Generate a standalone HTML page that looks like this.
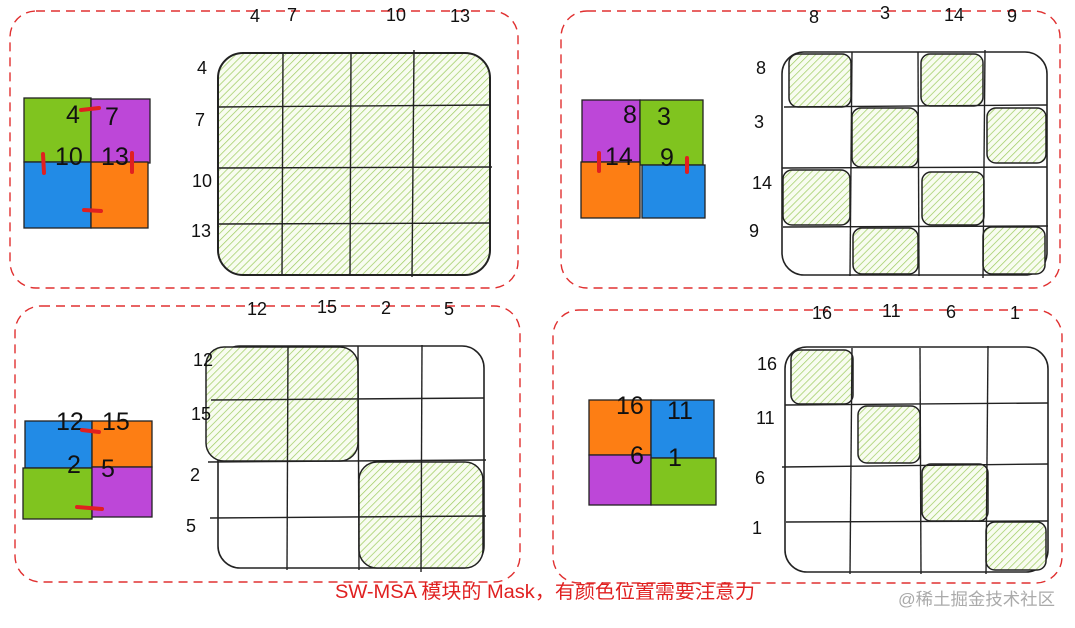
<!DOCTYPE html>
<html><head><meta charset="utf-8"><style>
html,body{margin:0;padding:0;background:#fff;}
svg{display:block;}
text{font-family:"Liberation Sans","Noto Sans CJK SC",sans-serif;}
</style></head><body>
<svg width="1075" height="628" viewBox="0 0 1075 628" xmlns="http://www.w3.org/2000/svg">
<defs>
<pattern id="h" patternUnits="userSpaceOnUse" width="5" height="5" patternTransform="rotate(45)">
<rect width="5" height="5" fill="#f8fcf0"/>
<line x1="0" y1="0" x2="0" y2="5" stroke="#9ccb5e" stroke-width="1.4"/>
</pattern>
</defs>
<rect width="1075" height="628" fill="#fff"/>

<g fill="none" stroke="#e03030" stroke-width="1.4" stroke-dasharray="9 6">
<rect x="10" y="11" width="508" height="277" rx="26"/>
<rect x="561" y="11" width="499" height="277" rx="26"/>
<rect x="15" y="306" width="505" height="276" rx="26"/>
<rect x="553" y="310" width="509" height="273" rx="26"/>
</g>

<g stroke="#222" stroke-width="1.3">
<rect x="24" y="98" width="67" height="64" fill="#80c41f"/>
<rect x="91" y="99" width="59" height="64" fill="#bd47d8"/>
<rect x="24" y="162" width="67" height="66" fill="#228be6"/>
<rect x="91" y="162" width="57" height="66" fill="#fd7e14"/>
</g>
<g font-size="25" fill="#111">
<text x="66" y="123">4</text><text x="105" y="125">7</text>
<text x="55" y="165">10</text><text x="101" y="165">13</text>
</g>
<g stroke="#e02020" stroke-width="4" stroke-linecap="round">
<line x1="81" y1="110" x2="99" y2="108"/><line x1="43" y1="154" x2="44" y2="173"/>
<line x1="132" y1="153" x2="132" y2="172"/><line x1="84" y1="210" x2="101" y2="211"/>
</g>
<rect x="218" y="53" width="272" height="222" rx="25" fill="url(#h)" stroke="#222" stroke-width="2"/>
<g stroke="#222" stroke-width="1.4">
<line x1="283" y1="52" x2="282" y2="276"/><line x1="351" y1="52" x2="350" y2="276"/><line x1="414" y1="50" x2="412" y2="277"/>
<line x1="218" y1="107" x2="490" y2="105"/><line x1="218" y1="168" x2="492" y2="167"/><line x1="218" y1="224" x2="490" y2="223"/>
</g>
<g font-size="18" fill="#111">
<text x="250" y="22">4</text><text x="287" y="21">7</text><text x="386" y="21">10</text><text x="450" y="22">13</text>
<text x="197" y="74">4</text><text x="195" y="126">7</text><text x="192" y="187">10</text><text x="191" y="237">13</text>
</g>

<g stroke="#222" stroke-width="1.3">
<rect x="582" y="100" width="58" height="62" fill="#bd47d8"/>
<rect x="640" y="100" width="63" height="65" fill="#80c41f"/>
<rect x="581" y="162" width="59" height="56" fill="#fd7e14"/>
<rect x="642" y="165" width="63" height="53" fill="#228be6"/>
</g>
<g font-size="25" fill="#111">
<text x="623" y="123">8</text><text x="657" y="125">3</text>
<text x="605" y="165">14</text><text x="660" y="166">9</text>
</g>
<g stroke="#e02020" stroke-width="4" stroke-linecap="round">
<line x1="599" y1="153" x2="599" y2="171"/><line x1="687" y1="158" x2="687" y2="172"/>
</g>
<rect x="782" y="52" width="265" height="223" rx="22" fill="#fff" stroke="#222" stroke-width="1.6"/>
<g fill="url(#h)" stroke="#222" stroke-width="1.5">
<rect x="789" y="54" width="62" height="53" rx="9"/>
<rect x="921" y="54" width="62" height="52" rx="9"/>
<rect x="852" y="108" width="66" height="59" rx="9"/>
<rect x="987" y="108" width="59" height="55" rx="9"/>
<rect x="783" y="170" width="67" height="55" rx="9"/>
<rect x="922" y="172" width="62" height="53" rx="9"/>
<rect x="853" y="228" width="65" height="46" rx="9"/>
<rect x="983" y="227" width="62" height="47" rx="9"/>
</g>
<g stroke="#222" stroke-width="1.4">
<line x1="852" y1="52" x2="850" y2="276"/><line x1="918" y1="52" x2="919" y2="276"/><line x1="985" y1="50" x2="983" y2="278"/>
<line x1="784" y1="107" x2="1047" y2="105"/><line x1="782" y1="168" x2="1047" y2="167"/><line x1="783" y1="227" x2="1048" y2="226"/>
</g>
<g font-size="18" fill="#111">
<text x="809" y="23">8</text><text x="880" y="19">3</text><text x="944" y="21">14</text><text x="1007" y="22">9</text>
<text x="756" y="74">8</text><text x="754" y="128">3</text><text x="752" y="189">14</text><text x="749" y="237">9</text>
</g>

<g stroke="#222" stroke-width="1.3">
<rect x="25" y="421" width="67" height="47" fill="#228be6"/>
<rect x="92" y="421" width="60" height="46" fill="#fd7e14"/>
<rect x="23" y="468" width="69" height="51" fill="#80c41f"/>
<rect x="92" y="467" width="60" height="50" fill="#bd47d8"/>
</g>
<g font-size="25" fill="#111">
<text x="56" y="430">12</text><text x="102" y="430">15</text>
<text x="67" y="473">2</text><text x="101" y="477">5</text>
</g>
<g stroke="#e02020" stroke-width="4" stroke-linecap="round">
<line x1="82" y1="430" x2="99" y2="432"/><line x1="77" y1="507" x2="102" y2="509"/>
</g>
<rect x="218" y="346" width="266" height="222" rx="22" fill="#fff" stroke="#222" stroke-width="1.6"/>
<g fill="url(#h)" stroke="#222" stroke-width="1.5">
<rect x="206" y="347" width="152" height="114" rx="18"/>
<rect x="359" y="462" width="124" height="106" rx="18"/>
</g>
<g stroke="#222" stroke-width="1.4">
<line x1="288" y1="347" x2="287" y2="570"/><line x1="358" y1="346" x2="359" y2="570"/><line x1="422" y1="345" x2="421" y2="572"/>
<line x1="211" y1="400" x2="484" y2="398"/><line x1="208" y1="462" x2="486" y2="460"/><line x1="210" y1="518" x2="486" y2="516"/>
</g>
<g font-size="18" fill="#111">
<text x="247" y="315">12</text><text x="317" y="313">15</text><text x="381" y="314">2</text><text x="444" y="315">5</text>
<text x="193" y="366">12</text><text x="191" y="420">15</text><text x="190" y="481">2</text><text x="186" y="532">5</text>
</g>

<g stroke="#222" stroke-width="1.3">
<rect x="589" y="400" width="62" height="55" fill="#fd7e14"/>
<rect x="651" y="400" width="63" height="58" fill="#228be6"/>
<rect x="589" y="455" width="62" height="50" fill="#bd47d8"/>
<rect x="651" y="458" width="65" height="47" fill="#80c41f"/>
</g>
<g font-size="25" fill="#111">
<text x="616" y="414">16</text><text x="667" y="419">11</text>
<text x="630" y="464">6</text><text x="668" y="466">1</text>
</g>
<rect x="785" y="347" width="263" height="225" rx="22" fill="#fff" stroke="#222" stroke-width="1.6"/>
<g fill="url(#h)" stroke="#222" stroke-width="1.5">
<rect x="791" y="350" width="62" height="54" rx="9"/>
<rect x="858" y="406" width="62" height="57" rx="9"/>
<rect x="922" y="464" width="66" height="57" rx="9"/>
<rect x="986" y="522" width="60" height="48" rx="9"/>
</g>
<g stroke="#222" stroke-width="1.4">
<line x1="852" y1="348" x2="850" y2="574"/><line x1="920" y1="348" x2="921" y2="574"/><line x1="988" y1="346" x2="986" y2="574"/>
<line x1="785" y1="405" x2="1048" y2="403"/><line x1="782" y1="467" x2="1048" y2="464"/><line x1="786" y1="522" x2="1048" y2="521"/>
</g>
<g font-size="18" fill="#111">
<text x="812" y="319">16</text><text x="882" y="317">11</text><text x="946" y="318">6</text><text x="1010" y="319">1</text>
<text x="757" y="370">16</text><text x="756" y="424">11</text><text x="755" y="484">6</text><text x="752" y="534">1</text>
</g>

<text x="335" y="598" font-size="19" fill="#e02020" textLength="420" lengthAdjust="spacingAndGlyphs">SW-MSA 模块的 Mask，有颜色位置需要注意力</text>
<text x="898" y="605" font-size="17" fill="#aaa" textLength="157" lengthAdjust="spacingAndGlyphs">@稀土掘金技术社区</text>
</svg>
</body></html>
